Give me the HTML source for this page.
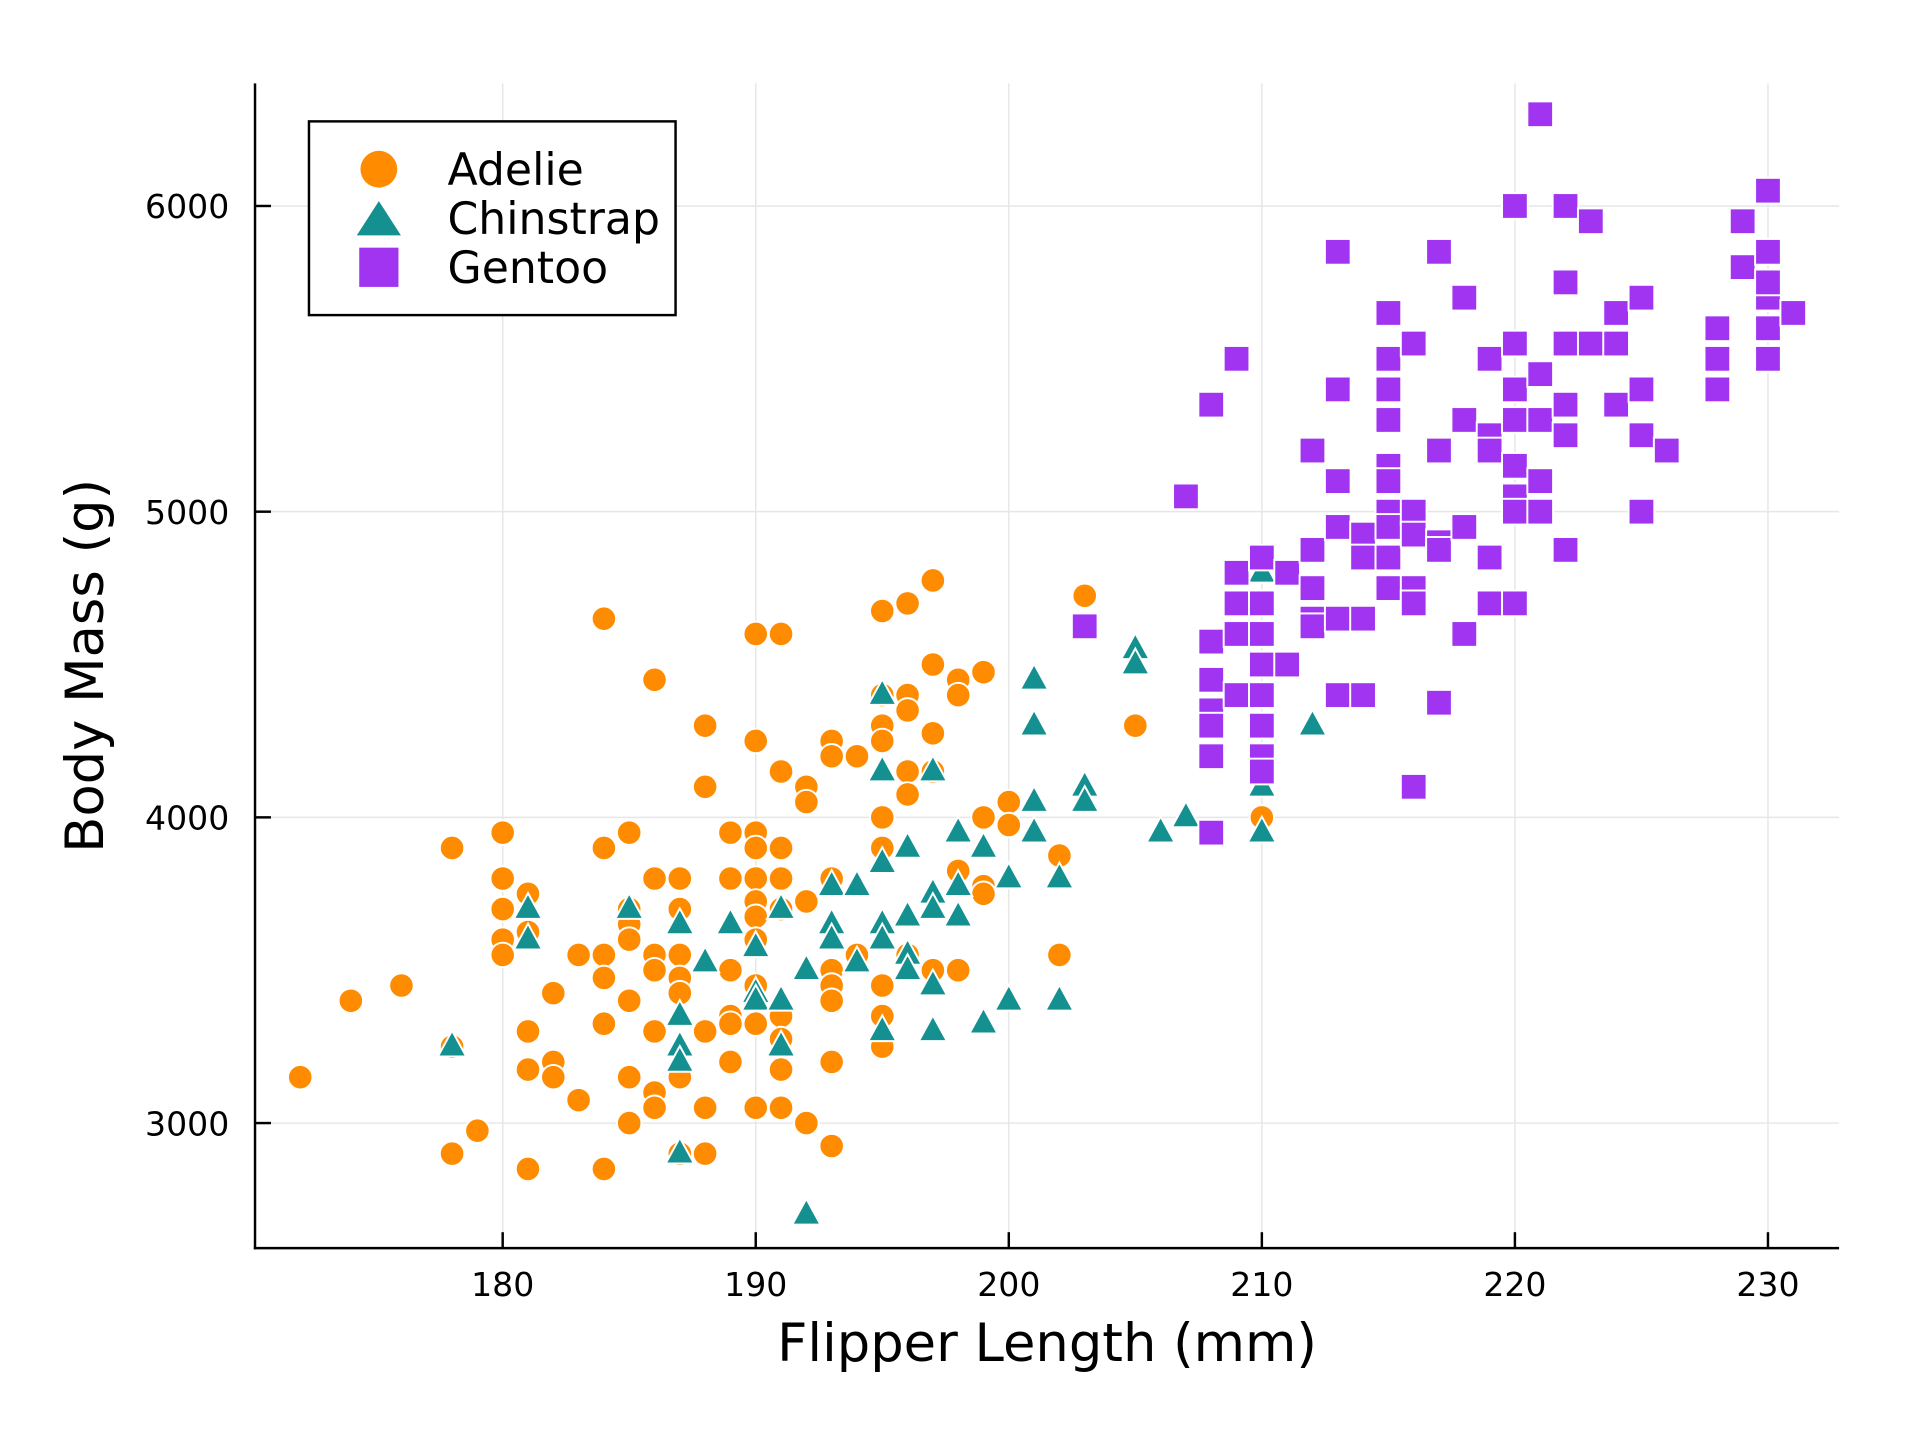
<!DOCTYPE html>
<html><head><meta charset="utf-8"><style>html,body{margin:0;padding:0;background:#fff}svg{display:block}text{font-family:"DejaVu Sans","Liberation Sans",sans-serif;fill:#000}</style></head>
<body>
<svg id="chart" width="1920" height="1440" viewBox="0 0 1566 1174.5" xmlns="http://www.w3.org/2000/svg">
<rect width="1566" height="1174.5" fill="#fff"/>
<g id="grid"></g>
<g id="marks"></g>
<g id="axes"></g>
<text x="854" y="1110" font-size="43" text-anchor="middle">Flipper Length (mm)</text>
<text transform="translate(84,543) rotate(-90)" font-size="43" text-anchor="middle">Body Mass (g)</text>
<g>
<rect x="252" y="99" width="299" height="158" fill="#fff" stroke="#000" stroke-width="2"/>
<g><circle cx="309" cy="138" r="15" fill="#ff8c00"/><text x="365" y="151" font-size="36">Adelie</text></g>
<g><polygon points="309,164 327,192 291,192" fill="#159090"/><text x="365" y="191" font-size="36">Chinstrap</text></g>
<g><rect x="293" y="202" width="32" height="32" fill="#a034f0"/><text x="365" y="231" font-size="36">Gentoo</text></g>
</g>
</svg>
<script>
const xTicks=[180,190,200,210,220,230];
const yTicks=[3000,4000,5000,6000];
const adelieFlipper=[172,174,176,178,178,178,179,180,180,180,180,180,181,181,181,181,181,182,182,182,183,183,184,184,184,184,184,184,185,185,185,185,185,185,185,186,186,186,186,186,186,186,187,187,187,187,187,187,187,188,188,188,188,188,189,189,189,189,189,189,190,190,190,190,190,190,190,190,190,190,190,191,191,191,191,191,191,191,191,191,192,192,192,192,193,193,193,193,193,193,193,193,194,194,195,195,195,195,195,195,195,195,195,196,196,196,196,196,196,197,197,197,197,197,198,198,198,198,199,199,199,199,200,200,202,202,203,205,210];
const adelieMass=[3150,3400,3450,2900,3900,3250,2975,3950,3800,3700,3600,3550,3750,3625,3300,3175,2850,3425,3200,3150,3550,3075,4650,3900,3550,3475,3325,2850,3950,3700,3650,3600,3400,3150,3000,4450,3800,3550,3500,3300,3100,3050,3800,3700,3550,3475,3425,3150,2900,4300,4100,3300,3050,2900,3950,3800,3500,3350,3325,3200,4600,4250,3950,3900,3800,3725,3675,3600,3450,3325,3050,4600,4150,3900,3800,3700,3350,3275,3175,3050,4100,4050,3725,3000,4250,4200,3800,3500,3450,3400,3200,2925,4200,3550,4675,4400,4300,4250,4000,3900,3450,3350,3250,4700,4400,4350,4150,4075,3550,4775,4500,4275,4150,3500,4450,4400,3825,3500,4475,4000,3775,3750,4050,3975,3875,3550,4725,4300,4000];
const chinFlipper=[178,181,181,185,187,187,187,187,187,188,189,190,190,190,191,191,191,192,192,193,193,193,194,194,195,195,195,195,195,195,196,196,196,196,197,197,197,197,197,198,198,198,199,199,200,200,201,201,201,201,202,202,203,203,205,205,206,207,210,210,210,212];
const chinMass=[3250,3700,3600,3700,3650,3350,3250,3200,2900,3525,3650,3575,3425,3400,3700,3400,3250,3500,2700,3775,3650,3600,3775,3525,4400,4150,3850,3650,3600,3300,3900,3675,3550,3500,4150,3750,3700,3450,3300,3950,3775,3675,3900,3325,3800,3400,4450,4300,4050,3950,3800,3400,4100,4050,4550,4500,3950,4000,4800,4100,3950,4300];
const gentooFlipper=[203,207,208,208,208,208,208,208,208,209,209,209,209,209,210,210,210,210,210,210,210,210,211,211,212,212,212,212,212,213,213,213,213,213,213,214,214,214,214,215,215,215,215,215,215,215,215,215,215,216,216,216,216,216,216,217,217,217,217,217,218,218,218,218,219,219,219,219,219,220,220,220,220,220,220,220,220,221,221,221,221,221,222,222,222,222,222,222,223,223,224,224,224,225,225,225,225,226,228,228,228,229,229,230,230,230,230,230,230,231];
const gentooMass=[4625,5050,5350,4575,4450,4350,4300,4200,3950,5500,4800,4700,4600,4400,4850,4700,4600,4500,4400,4300,4200,4150,4800,4500,5200,4875,4750,4650,4625,5850,5400,5100,4950,4650,4400,4925,4850,4650,4400,5650,5500,5400,5300,5150,5100,5000,4950,4850,4750,5550,5000,4925,4750,4700,4100,5850,5200,4900,4875,4375,5700,5300,4950,4600,5500,5250,5200,4850,4700,6000,5550,5400,5300,5150,5050,5000,4700,6300,5450,5300,5100,5000,6000,5750,5550,5350,5250,4875,5950,5550,5650,5550,5350,5700,5400,5250,5000,5200,5600,5500,5400,5950,5800,6050,5850,5700,5750,5600,5500,5650];

const NS='http://www.w3.org/2000/svg';
const L=208,R=1500,T=68,B=1018;
function xs(v){return 410+(v-180)*(1442-410)/50;}
function ys(v){return 916-(v-3000)*(916-168)/3000;}
function mk(tag,attrs,parent){const e=document.createElementNS(NS,tag);for(const k in attrs)e.setAttribute(k,attrs[k]);parent.appendChild(e);return e;}
const grid=document.getElementById('grid'),axes=document.getElementById('axes'),marks=document.getElementById('marks');
xTicks.forEach(t=>{
  const g=mk('line',{x1:xs(t),x2:xs(t),y1:T,y2:B,stroke:'#e6e6e6','stroke-width':1.2},grid);
  
  
  const tk=mk('line',{x1:xs(t),x2:xs(t),y1:B,y2:B-13,stroke:'#000','stroke-width':2},axes);
  
  
  const tx=mk('text',{x:xs(t),y:1057,'font-size':27,'text-anchor':'middle'},axes);
  tx.textContent=t;
  
  
});
yTicks.forEach(t=>{
  const g=mk('line',{x1:L,x2:R,y1:ys(t),y2:ys(t),stroke:'#e6e6e6','stroke-width':1.2},grid);
  
  
  const tk=mk('line',{x1:L,x2:L+13,y1:ys(t),y2:ys(t),stroke:'#000','stroke-width':2},axes);
  
  
  const tx=mk('text',{x:187,y:ys(t)+10,'font-size':27,'text-anchor':'end'},axes);
  tx.textContent=t;
  
  
});
const ax1=mk('line',{x1:L,x2:L,y1:T,y2:B+1,stroke:'#000','stroke-width':2},axes);


const ax2=mk('line',{x1:L-1,x2:R,y1:B,y2:B,stroke:'#000','stroke-width':2},axes);



adelieFlipper.forEach((f,i)=>{
  const c=mk('circle',{cx:xs(f),cy:ys(adelieMass[i]),r:10,fill:'#ff8c00',stroke:'#fff','stroke-width':1.6},marks);
  
  
});
chinFlipper.forEach((f,i)=>{
  const x=xs(f),y=ys(chinMass[i]);
  const p=mk('polygon',{points:`${x},${y-13} ${x+11.5},${y+8} ${x-11.5},${y+8}`,fill:'#159090',stroke:'#fff','stroke-width':1.6},marks);
  
  
});
gentooFlipper.forEach((f,i)=>{
  const x=xs(f),y=ys(gentooMass[i]);
  const s=mk('rect',{x:x-10.5,y:y-10.5,width:21,height:21,fill:'#a034f0',stroke:'#fff','stroke-width':1.6},marks);
  
  
});
</script>
</body></html>
